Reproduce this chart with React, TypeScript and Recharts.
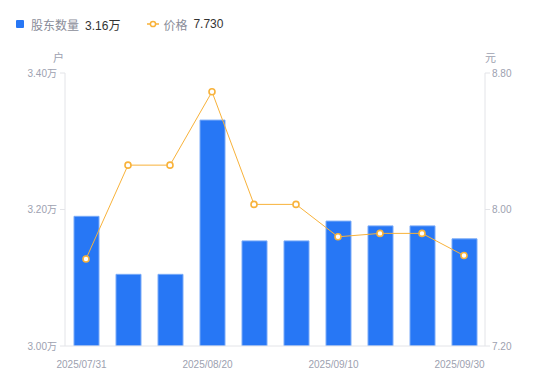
import React from "react";
import { ComposedChart, Bar, Line, XAxis, YAxis } from "recharts";

const dates = [
  "2025/07/31", "2025/08/08", "2025/08/15", "2025/08/20", "2025/08/29",
  "2025/09/05", "2025/09/10", "2025/09/19", "2025/09/26", "2025/09/30",
];
// 股东数量（万户）
const holders = [3.19, 3.105, 3.105, 3.331, 3.154, 3.154, 3.183, 3.176, 3.176, 3.157];
// 价格（元）
const prices = [7.71, 8.26, 8.26, 8.69, 8.03, 8.03, 7.84, 7.86, 7.86, 7.73];

const leftTicks = [3.0, 3.2, 3.4];
const rightTicks = [7.2, 8.0, 8.8];

const data = dates.map((d, i) => ({ date: d, holders: holders[i], price: prices[i] }));

const W = 550;
const H = 381;
const PLOT_L = 65;
const PLOT_R = 485;
const AXIS_COLOR = "#e3e4e8";
const TICK_COLOR = "#9da1b0";
const FONT = "'Liberation Sans', Arial, 'Noto Sans CJK SC', sans-serif";
const LABEL_W = 47;

const XTick = (props: any) => {
  const { y, payload } = props;
  const idx = dates.indexOf(payload.value);
  const t = idx / (dates.length - 1);
  const cx = PLOT_L - 7 + LABEL_W / 2 + t * (PLOT_R - PLOT_L + 5 - LABEL_W);
  return (
    <text x={cx} y={y + 14} textAnchor="middle" fontSize={10} fill={TICK_COLOR} fontFamily={FONT}>
      {payload.value}
    </text>
  );
};

const Dot = (props: any) => {
  const { cx, cy } = props;
  return <circle cx={cx} cy={cy} r={3} fill="#fff" stroke="#f8b23a" strokeWidth={1.6} />;
};

export default function App() {
  const last = data[data.length - 1];
  return (
    <div style={{ position: "absolute", left: 0, top: 0, width: W, height: H, fontFamily: FONT, background: "#fff" }}>
      <div style={{ position: "absolute", left: 16, top: 15, height: 18, display: "flex", alignItems: "center", fontSize: 12, whiteSpace: "nowrap" }}>
        <span style={{ width: 8, height: 8, background: "#2777f5", borderRadius: 1, display: "inline-block", marginRight: 7 }} />
        <span style={{ color: "#8a8d99" }}>股东数量</span>
        <span style={{ color: "#333", marginLeft: 6 }}>{last.holders.toFixed(2)}万</span>
        <svg width={12} height={8} style={{ marginLeft: 27, marginRight: 4 }}>
          <line x1={0} y1={4} x2={12} y2={4} stroke="#f8b23a" strokeWidth={1.5} />
          <circle cx={6} cy={4} r={2.6} fill="#fff" stroke="#f8b23a" strokeWidth={1.5} />
        </svg>
        <span style={{ color: "#8a8d99" }}>价格</span>
        <span style={{ color: "#333", marginLeft: 6 }}>{last.price.toFixed(3)}</span>
      </div>
      <div style={{ position: "absolute", left: 53, top: 49, fontSize: 11, color: TICK_COLOR }}>户</div>
      <div style={{ position: "absolute", left: 485, top: 49, fontSize: 11, color: TICK_COLOR }}>元</div>
      <ComposedChart width={W} height={H} data={data} margin={{ top: 73, right: 0, left: 0, bottom: 5 }}>
        <XAxis
          dataKey="date"
          interval={2}
          tickLine={false}
          axisLine={{ stroke: AXIS_COLOR }}
          tick={<XTick />}
          height={30}
        />
        <YAxis
          yAxisId="left"
          width={65}
          domain={[3.0, 3.4]}
          ticks={leftTicks}
          tickFormatter={(v: number) => v.toFixed(2) + "万"}
          tick={{ fontSize: 10, fill: TICK_COLOR, fontFamily: FONT }}
          tickSize={5}
          tickMargin={3}
          tickLine={{ stroke: AXIS_COLOR }}
          axisLine={{ stroke: AXIS_COLOR }}
          allowDataOverflow
        />
        <YAxis
          yAxisId="right"
          orientation="right"
          width={65}
          domain={[7.2, 8.8]}
          ticks={rightTicks}
          tickFormatter={(v: number) => v.toFixed(2)}
          tick={{ fontSize: 10, fill: TICK_COLOR, fontFamily: FONT }}
          tickSize={5}
          tickMargin={2}
          tickLine={{ stroke: AXIS_COLOR }}
          axisLine={{ stroke: AXIS_COLOR }}
          allowDataOverflow
        />
        <Bar
          yAxisId="left"
          dataKey="holders"
          fill="#2777f5"
          stroke="#7aabf8"
          strokeWidth={1}
          barSize={25}
          isAnimationActive={false}
        />
        <Line
          yAxisId="right"
          dataKey="price"
          type="linear"
          stroke="#f8b23a"
          strokeWidth={1}
          dot={<Dot />}
          activeDot={false}
          isAnimationActive={false}
        />
      </ComposedChart>
    </div>
  );
}
